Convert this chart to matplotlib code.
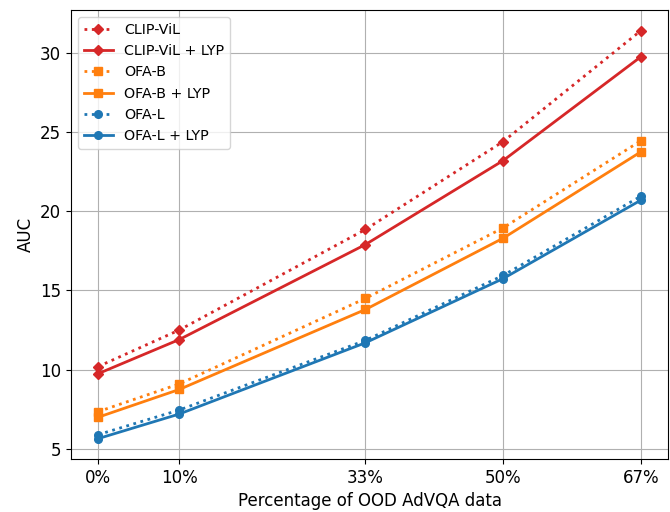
import matplotlib
matplotlib.use("Agg")
import matplotlib.pyplot as plt

# x positions (percent of OOD data)
x = [0, 10, 33, 50, 67]
xticklabels = ["0%", "10%", "33%", "50%", "67%"]

clipvil = [10.2, 12.5, 18.85, 24.4, 31.4]
clipvil_lyp = [9.75, 11.9, 17.9, 23.2, 29.75]
ofab = [7.35, 9.1, 14.5, 18.95, 24.45]
ofab_lyp = [7.0, 8.75, 13.8, 18.3, 23.75]
ofal = [5.9, 7.45, 11.85, 15.95, 20.95]
ofal_lyp = [5.65, 7.2, 11.7, 15.75, 20.7]

red, orange, blue = "#d62728", "#ff7f0e", "#1f77b4"

fig, ax = plt.subplots(figsize=(6.7, 5.12), dpi=100)
ax.plot(x, clipvil, ":", marker="D", color=red, ms=5.5, lw=2, label="CLIP-ViL")
ax.plot(x, clipvil_lyp, "-", marker="D", color=red, ms=5.5, lw=2, label="CLIP-ViL + LYP")
ax.plot(x, ofab, ":", marker="s", color=orange, ms=5.5, lw=2, label="OFA-B")
ax.plot(x, ofab_lyp, "-", marker="s", color=orange, ms=5.5, lw=2, label="OFA-B + LYP")
ax.plot(x, ofal, ":", marker="o", color=blue, ms=5.5, lw=2, label="OFA-L")
ax.plot(x, ofal_lyp, "-", marker="o", color=blue, ms=5.5, lw=2, label="OFA-L + LYP")

ax.set_xticks(x)
ax.set_xticklabels(xticklabels)
ax.tick_params(labelsize=12)
ax.set_xlabel("Percentage of OOD AdVQA data", fontsize=12)
ax.set_ylabel("AUC", fontsize=12)
ax.grid(True)
ax.legend(loc="upper left", fontsize=10.3)

plt.subplots_adjust(left=0.106, right=0.997, top=0.980, bottom=0.1035)
plt.savefig("out.png", dpi=100)
